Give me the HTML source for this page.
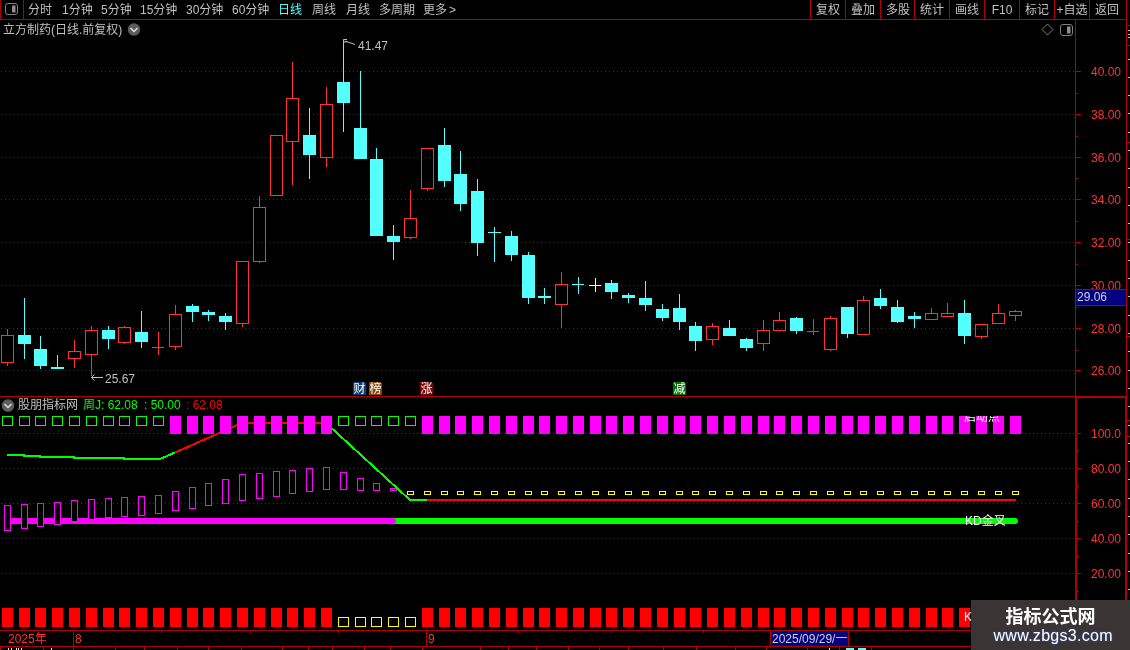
<!DOCTYPE html>
<html><head><meta charset="utf-8"><title>K线</title>
<style>
html,body{margin:0;padding:0;background:#000;width:1130px;height:650px;overflow:hidden}
svg{display:block;font-family:"Liberation Sans","Noto Sans CJK SC",sans-serif}
</style></head><body>
<svg width="1130" height="650" viewBox="0 0 1130 650" shape-rendering="crispEdges">
<rect width="1130" height="650" fill="#000"/>
<line x1="1" y1="71.5" x2="1075" y2="71.5" stroke="#b00000" stroke-width="1" stroke-dasharray="1 3"/>
<line x1="1" y1="114.5" x2="1075" y2="114.5" stroke="#b00000" stroke-width="1" stroke-dasharray="1 3"/>
<line x1="1" y1="157.5" x2="1075" y2="157.5" stroke="#b00000" stroke-width="1" stroke-dasharray="1 3"/>
<line x1="1" y1="199.5" x2="1075" y2="199.5" stroke="#b00000" stroke-width="1" stroke-dasharray="1 3"/>
<line x1="1" y1="242.5" x2="1075" y2="242.5" stroke="#b00000" stroke-width="1" stroke-dasharray="1 3"/>
<line x1="1" y1="285.5" x2="1075" y2="285.5" stroke="#b00000" stroke-width="1" stroke-dasharray="1 3"/>
<line x1="1" y1="328.5" x2="1075" y2="328.5" stroke="#b00000" stroke-width="1" stroke-dasharray="1 3"/>
<line x1="1" y1="370.5" x2="1075" y2="370.5" stroke="#b00000" stroke-width="1" stroke-dasharray="1 3"/>
<line x1="1" y1="433.5" x2="1075" y2="433.5" stroke="#b00000" stroke-width="1" stroke-dasharray="1 3"/>
<line x1="1" y1="468.5" x2="1075" y2="468.5" stroke="#b00000" stroke-width="1" stroke-dasharray="1 3"/>
<line x1="1" y1="503.5" x2="1075" y2="503.5" stroke="#b00000" stroke-width="1" stroke-dasharray="1 3"/>
<line x1="1" y1="538.5" x2="1075" y2="538.5" stroke="#b00000" stroke-width="1" stroke-dasharray="1 3"/>
<line x1="1" y1="573.5" x2="1075" y2="573.5" stroke="#b00000" stroke-width="1" stroke-dasharray="1 3"/>
<rect x="7" y="329" width="1" height="6" fill="#ff3232" />
<rect x="7" y="363" width="1" height="3" fill="#ff3232" />
<rect x="1.5" y="335.5" width="12" height="27" fill="none" stroke="#ff3232" stroke-width="1"/>
<rect x="24" y="298" width="1" height="61" fill="#54ffff" />
<rect x="18" y="335" width="13" height="9" fill="#54ffff" />
<rect x="40" y="336" width="1" height="33" fill="#54ffff" />
<rect x="34" y="349" width="13" height="17" fill="#54ffff" />
<rect x="57" y="355" width="1" height="14" fill="#54ffff" />
<rect x="51" y="367" width="13" height="2" fill="#54ffff" />
<rect x="74" y="340" width="1" height="11" fill="#ff3232" />
<rect x="74" y="359" width="1" height="9" fill="#ff3232" />
<rect x="68.5" y="351.5" width="12" height="7" fill="none" stroke="#ff3232" stroke-width="1"/>
<rect x="91" y="326" width="1" height="4" fill="#ff3232" />
<rect x="91" y="355" width="1" height="21" fill="#ff3232" />
<rect x="85.5" y="330.5" width="12" height="24" fill="none" stroke="#ff3232" stroke-width="1"/>
<rect x="108" y="326" width="1" height="23" fill="#54ffff" />
<rect x="102" y="330" width="13" height="9" fill="#54ffff" />
<rect x="124" y="326" width="1" height="1" fill="#ff3232" />
<rect x="124" y="343" width="1" height="1" fill="#ff3232" />
<rect x="118.5" y="327.5" width="12" height="15" fill="none" stroke="#ff3232" stroke-width="1"/>
<rect x="141" y="311" width="1" height="37" fill="#54ffff" />
<rect x="135" y="332" width="13" height="10" fill="#54ffff" />
<rect x="158" y="332" width="1" height="23" fill="#ff3232" />
<rect x="152" y="347" width="12" height="1" fill="#ff3232" />
<rect x="175" y="305" width="1" height="9" fill="#ff3232" />
<rect x="175" y="347" width="1" height="3" fill="#ff3232" />
<rect x="169.5" y="314.5" width="12" height="32" fill="none" stroke="#ff3232" stroke-width="1"/>
<rect x="192" y="304" width="1" height="18" fill="#54ffff" />
<rect x="186" y="306" width="13" height="6" fill="#54ffff" />
<rect x="208" y="310" width="1" height="11" fill="#54ffff" />
<rect x="202" y="312" width="13" height="3" fill="#54ffff" />
<rect x="225" y="313" width="1" height="17" fill="#54ffff" />
<rect x="219" y="316" width="13" height="6" fill="#54ffff" />
<rect x="242" y="324" width="1" height="3" fill="#ff3232" />
<rect x="236.5" y="261.5" width="12" height="62" fill="none" stroke="#ff3232" stroke-width="1"/>
<rect x="259" y="196" width="1" height="11" fill="#ff3232" />
<rect x="259" y="262" width="1" height="1" fill="#ff3232" />
<rect x="253.5" y="207.5" width="12" height="54" fill="none" stroke="#ff3232" stroke-width="1"/>
<rect x="270.5" y="135.5" width="12" height="60" fill="none" stroke="#ff3232" stroke-width="1"/>
<rect x="292" y="62" width="1" height="36" fill="#ff3232" />
<rect x="292" y="142" width="1" height="43" fill="#ff3232" />
<rect x="286.5" y="98.5" width="12" height="43" fill="none" stroke="#ff3232" stroke-width="1"/>
<rect x="309" y="108" width="1" height="71" fill="#54ffff" />
<rect x="303" y="135" width="13" height="20" fill="#54ffff" />
<rect x="326" y="87" width="1" height="17" fill="#ff3232" />
<rect x="326" y="158" width="1" height="9" fill="#ff3232" />
<rect x="320.5" y="104.5" width="12" height="53" fill="none" stroke="#ff3232" stroke-width="1"/>
<rect x="343" y="43" width="1" height="89" fill="#54ffff" />
<rect x="337" y="82" width="13" height="21" fill="#54ffff" />
<rect x="360" y="71" width="1" height="88" fill="#54ffff" />
<rect x="354" y="128" width="13" height="31" fill="#54ffff" />
<rect x="376" y="148" width="1" height="88" fill="#54ffff" />
<rect x="370" y="159" width="13" height="77" fill="#54ffff" />
<rect x="393" y="225" width="1" height="35" fill="#54ffff" />
<rect x="387" y="236" width="13" height="6" fill="#54ffff" />
<rect x="410" y="190" width="1" height="28" fill="#ff3232" />
<rect x="410" y="238" width="1" height="1" fill="#ff3232" />
<rect x="404.5" y="218.5" width="12" height="19" fill="none" stroke="#ff3232" stroke-width="1"/>
<rect x="427" y="189" width="1" height="2" fill="#ff3232" />
<rect x="421.5" y="148.5" width="12" height="40" fill="none" stroke="#ff3232" stroke-width="1"/>
<rect x="444" y="128" width="1" height="59" fill="#54ffff" />
<rect x="438" y="145" width="13" height="36" fill="#54ffff" />
<rect x="460" y="151" width="1" height="60" fill="#54ffff" />
<rect x="454" y="174" width="13" height="30" fill="#54ffff" />
<rect x="477" y="179" width="1" height="77" fill="#54ffff" />
<rect x="471" y="191" width="13" height="52" fill="#54ffff" />
<rect x="494" y="227" width="1" height="35" fill="#54ffff" />
<rect x="488" y="232" width="13" height="1" fill="#54ffff" />
<rect x="511" y="231" width="1" height="30" fill="#54ffff" />
<rect x="505" y="236" width="13" height="19" fill="#54ffff" />
<rect x="528" y="252" width="1" height="52" fill="#54ffff" />
<rect x="522" y="255" width="13" height="43" fill="#54ffff" />
<rect x="544" y="288" width="1" height="16" fill="#54ffff" />
<rect x="538" y="296" width="13" height="2" fill="#54ffff" />
<rect x="561" y="272" width="1" height="12" fill="#ff3232" />
<rect x="561" y="305" width="1" height="23" fill="#ff3232" />
<rect x="555.5" y="284.5" width="12" height="20" fill="none" stroke="#ff3232" stroke-width="1"/>
<rect x="578" y="277" width="1" height="17" fill="#54ffff" />
<rect x="572" y="284" width="12" height="1" fill="#54ffff" />
<rect x="595" y="278" width="1" height="14" fill="#ffffff" />
<rect x="589" y="285" width="12" height="1" fill="#ffffff" />
<rect x="611" y="280" width="1" height="19" fill="#54ffff" />
<rect x="605" y="283" width="13" height="9" fill="#54ffff" />
<rect x="628" y="293" width="1" height="10" fill="#54ffff" />
<rect x="622" y="295" width="13" height="3" fill="#54ffff" />
<rect x="645" y="281" width="1" height="30" fill="#54ffff" />
<rect x="639" y="298" width="13" height="7" fill="#54ffff" />
<rect x="662" y="304" width="1" height="17" fill="#54ffff" />
<rect x="656" y="309" width="13" height="9" fill="#54ffff" />
<rect x="679" y="294" width="1" height="36" fill="#54ffff" />
<rect x="673" y="308" width="13" height="14" fill="#54ffff" />
<rect x="695" y="322" width="1" height="29" fill="#54ffff" />
<rect x="689" y="326" width="13" height="15" fill="#54ffff" />
<rect x="712" y="323" width="1" height="3" fill="#ff3232" />
<rect x="712" y="340" width="1" height="5" fill="#ff3232" />
<rect x="706.5" y="326.5" width="12" height="13" fill="none" stroke="#ff3232" stroke-width="1"/>
<rect x="729" y="320" width="1" height="16" fill="#54ffff" />
<rect x="723" y="328" width="13" height="8" fill="#54ffff" />
<rect x="746" y="338" width="1" height="13" fill="#54ffff" />
<rect x="740" y="339" width="13" height="9" fill="#54ffff" />
<rect x="763" y="320" width="1" height="10" fill="#ff3232" />
<rect x="763" y="344" width="1" height="7" fill="#ff3232" />
<rect x="757.5" y="330.5" width="12" height="13" fill="none" stroke="#ff3232" stroke-width="1"/>
<rect x="779" y="312" width="1" height="8" fill="#ff3232" />
<rect x="773.5" y="320.5" width="12" height="10" fill="none" stroke="#ff3232" stroke-width="1"/>
<rect x="796" y="317" width="1" height="17" fill="#54ffff" />
<rect x="790" y="318" width="13" height="13" fill="#54ffff" />
<rect x="813" y="319" width="1" height="16" fill="#ff3232" />
<rect x="807" y="331" width="12" height="1" fill="#ff3232" />
<rect x="830" y="316" width="1" height="2" fill="#ff3232" />
<rect x="830" y="350" width="1" height="1" fill="#ff3232" />
<rect x="824.5" y="318.5" width="12" height="31" fill="none" stroke="#ff3232" stroke-width="1"/>
<rect x="847" y="307" width="1" height="31" fill="#54ffff" />
<rect x="841" y="307" width="13" height="27" fill="#54ffff" />
<rect x="863" y="296" width="1" height="4" fill="#ff3232" />
<rect x="857.5" y="300.5" width="12" height="34" fill="none" stroke="#ff3232" stroke-width="1"/>
<rect x="880" y="289" width="1" height="20" fill="#54ffff" />
<rect x="874" y="298" width="13" height="8" fill="#54ffff" />
<rect x="897" y="300" width="1" height="23" fill="#54ffff" />
<rect x="891" y="307" width="13" height="15" fill="#54ffff" />
<rect x="914" y="312" width="1" height="16" fill="#54ffff" />
<rect x="908" y="316" width="13" height="3" fill="#54ffff" />
<rect x="931" y="308" width="1" height="5" fill="#ff3232" />
<rect x="925.5" y="313.5" width="12" height="6" fill="none" stroke="#ff3232" stroke-width="1"/>
<rect x="947" y="303" width="1" height="10" fill="#ff3232" />
<rect x="941.5" y="313.5" width="12" height="3" fill="none" stroke="#ff3232" stroke-width="1"/>
<rect x="964" y="300" width="1" height="44" fill="#54ffff" />
<rect x="958" y="313" width="13" height="23" fill="#54ffff" />
<rect x="981" y="337" width="1" height="2" fill="#ff3232" />
<rect x="975.5" y="324.5" width="12" height="12" fill="none" stroke="#ff3232" stroke-width="1"/>
<rect x="998" y="304" width="1" height="9" fill="#ff3232" />
<rect x="992.5" y="313.5" width="12" height="10" fill="none" stroke="#ff3232" stroke-width="1"/>
<rect x="1015" y="310" width="1" height="1" fill="#ff3232" />
<rect x="1015" y="316" width="1" height="5" fill="#ff3232" />
<rect x="1009.5" y="311.5" width="12" height="4" fill="none" stroke="#ff3232" stroke-width="1"/>
<line x1="390" y1="521" x2="1015" y2="521" stroke="#00ff00" stroke-width="6" stroke-linecap="round" shape-rendering="auto"/>
<line x1="8" y1="521" x2="393" y2="521" stroke="#ff00ff" stroke-width="6" stroke-linecap="round" shape-rendering="auto"/>
<rect x="4.5" y="505.5" width="6" height="25" fill="#000" stroke="#ff00ff" stroke-width="1"/>
<rect x="21.5" y="504.5" width="6" height="24" fill="#000" stroke="#ff00ff" stroke-width="1"/>
<rect x="37.5" y="503.5" width="6" height="23" fill="#000" stroke="#ff00ff" stroke-width="1"/>
<rect x="54.5" y="502.5" width="6" height="22" fill="#000" stroke="#ff00ff" stroke-width="1"/>
<rect x="71.5" y="500.5" width="6" height="21" fill="#000" stroke="#ff00ff" stroke-width="1"/>
<rect x="88.5" y="499.5" width="6" height="20" fill="#000" stroke="#ff00ff" stroke-width="1"/>
<rect x="105.5" y="498.5" width="6" height="19" fill="#000" stroke="#ff00ff" stroke-width="1"/>
<rect x="121.5" y="497.5" width="6" height="19" fill="#000" stroke="#ff00ff" stroke-width="1"/>
<rect x="138.5" y="496.5" width="6" height="19" fill="#000" stroke="#ff00ff" stroke-width="1"/>
<rect x="155.5" y="495.5" width="6" height="18" fill="#000" stroke="#ff00ff" stroke-width="1"/>
<rect x="172.5" y="491.5" width="6" height="19" fill="#000" stroke="#ff00ff" stroke-width="1"/>
<rect x="189.5" y="487.5" width="6" height="21" fill="#000" stroke="#ff00ff" stroke-width="1"/>
<rect x="205.5" y="483.5" width="6" height="22" fill="#000" stroke="#ff00ff" stroke-width="1"/>
<rect x="222.5" y="479.5" width="6" height="24" fill="#000" stroke="#ff00ff" stroke-width="1"/>
<rect x="239.5" y="474.5" width="6" height="26" fill="#000" stroke="#ff00ff" stroke-width="1"/>
<rect x="256.5" y="473.5" width="6" height="25" fill="#000" stroke="#ff00ff" stroke-width="1"/>
<rect x="273.5" y="471.5" width="6" height="25" fill="#000" stroke="#ff00ff" stroke-width="1"/>
<rect x="289.5" y="470.5" width="6" height="23" fill="#000" stroke="#ff00ff" stroke-width="1"/>
<rect x="306.5" y="468.5" width="6" height="23" fill="#000" stroke="#ff00ff" stroke-width="1"/>
<rect x="323.5" y="467.5" width="6" height="22" fill="#000" stroke="#ff00ff" stroke-width="1"/>
<rect x="340.5" y="472.5" width="6" height="17" fill="#000" stroke="#ff00ff" stroke-width="1"/>
<rect x="357.5" y="478.5" width="6" height="12" fill="#000" stroke="#ff00ff" stroke-width="1"/>
<rect x="373.5" y="483.5" width="6" height="7" fill="#000" stroke="#ff00ff" stroke-width="1"/>
<rect x="390.5" y="488.5" width="6" height="2" fill="#000" stroke="#ff00ff" stroke-width="1"/>
<rect x="407.5" y="491.5" width="6" height="3" fill="#000" stroke="#ffff00" stroke-width="1"/>
<rect x="424.5" y="491.5" width="6" height="3" fill="#000" stroke="#ffff00" stroke-width="1"/>
<rect x="441.5" y="491.5" width="6" height="3" fill="#000" stroke="#ffff00" stroke-width="1"/>
<rect x="457.5" y="491.5" width="6" height="3" fill="#000" stroke="#ffff00" stroke-width="1"/>
<rect x="474.5" y="491.5" width="6" height="3" fill="#000" stroke="#ffff00" stroke-width="1"/>
<rect x="491.5" y="491.5" width="6" height="3" fill="#000" stroke="#ffff00" stroke-width="1"/>
<rect x="508.5" y="491.5" width="6" height="3" fill="#000" stroke="#ffff00" stroke-width="1"/>
<rect x="525.5" y="491.5" width="6" height="3" fill="#000" stroke="#ffff00" stroke-width="1"/>
<rect x="541.5" y="491.5" width="6" height="3" fill="#000" stroke="#ffff00" stroke-width="1"/>
<rect x="558.5" y="491.5" width="6" height="3" fill="#000" stroke="#ffff00" stroke-width="1"/>
<rect x="575.5" y="491.5" width="6" height="3" fill="#000" stroke="#ffff00" stroke-width="1"/>
<rect x="592.5" y="491.5" width="6" height="3" fill="#000" stroke="#ffff00" stroke-width="1"/>
<rect x="608.5" y="491.5" width="6" height="3" fill="#000" stroke="#ffff00" stroke-width="1"/>
<rect x="625.5" y="491.5" width="6" height="3" fill="#000" stroke="#ffff00" stroke-width="1"/>
<rect x="642.5" y="491.5" width="6" height="3" fill="#000" stroke="#ffff00" stroke-width="1"/>
<rect x="659.5" y="491.5" width="6" height="3" fill="#000" stroke="#ffff00" stroke-width="1"/>
<rect x="676.5" y="491.5" width="6" height="3" fill="#000" stroke="#ffff00" stroke-width="1"/>
<rect x="692.5" y="491.5" width="6" height="3" fill="#000" stroke="#ffff00" stroke-width="1"/>
<rect x="709.5" y="491.5" width="6" height="3" fill="#000" stroke="#ffff00" stroke-width="1"/>
<rect x="726.5" y="491.5" width="6" height="3" fill="#000" stroke="#ffff00" stroke-width="1"/>
<rect x="743.5" y="491.5" width="6" height="3" fill="#000" stroke="#ffff00" stroke-width="1"/>
<rect x="760.5" y="491.5" width="6" height="3" fill="#000" stroke="#ffff00" stroke-width="1"/>
<rect x="776.5" y="491.5" width="6" height="3" fill="#000" stroke="#ffff00" stroke-width="1"/>
<rect x="793.5" y="491.5" width="6" height="3" fill="#000" stroke="#ffff00" stroke-width="1"/>
<rect x="810.5" y="491.5" width="6" height="3" fill="#000" stroke="#ffff00" stroke-width="1"/>
<rect x="827.5" y="491.5" width="6" height="3" fill="#000" stroke="#ffff00" stroke-width="1"/>
<rect x="844.5" y="491.5" width="6" height="3" fill="#000" stroke="#ffff00" stroke-width="1"/>
<rect x="860.5" y="491.5" width="6" height="3" fill="#000" stroke="#ffff00" stroke-width="1"/>
<rect x="877.5" y="491.5" width="6" height="3" fill="#000" stroke="#ffff00" stroke-width="1"/>
<rect x="894.5" y="491.5" width="6" height="3" fill="#000" stroke="#ffff00" stroke-width="1"/>
<rect x="911.5" y="491.5" width="6" height="3" fill="#000" stroke="#ffff00" stroke-width="1"/>
<rect x="928.5" y="491.5" width="6" height="3" fill="#000" stroke="#ffff00" stroke-width="1"/>
<rect x="944.5" y="491.5" width="6" height="3" fill="#000" stroke="#ffff00" stroke-width="1"/>
<rect x="961.5" y="491.5" width="6" height="3" fill="#000" stroke="#ffff00" stroke-width="1"/>
<rect x="978.5" y="491.5" width="6" height="3" fill="#000" stroke="#ffff00" stroke-width="1"/>
<rect x="995.5" y="491.5" width="6" height="3" fill="#000" stroke="#ffff00" stroke-width="1"/>
<rect x="1012.5" y="491.5" width="6" height="3" fill="#000" stroke="#ffff00" stroke-width="1"/>
<rect x="2.5" y="416.5" width="10" height="9" fill="none" stroke="#00ff00" stroke-width="1"/>
<rect x="19.5" y="416.5" width="10" height="9" fill="none" stroke="#00ff00" stroke-width="1"/>
<rect x="35.5" y="416.5" width="10" height="9" fill="none" stroke="#00ff00" stroke-width="1"/>
<rect x="52.5" y="416.5" width="10" height="9" fill="none" stroke="#00ff00" stroke-width="1"/>
<rect x="69.5" y="416.5" width="10" height="9" fill="none" stroke="#00ff00" stroke-width="1"/>
<rect x="86.5" y="416.5" width="10" height="9" fill="none" stroke="#00ff00" stroke-width="1"/>
<rect x="103.5" y="416.5" width="10" height="9" fill="none" stroke="#00ff00" stroke-width="1"/>
<rect x="119.5" y="416.5" width="10" height="9" fill="none" stroke="#00ff00" stroke-width="1"/>
<rect x="136.5" y="416.5" width="10" height="9" fill="none" stroke="#00ff00" stroke-width="1"/>
<rect x="153.5" y="416.5" width="10" height="9" fill="none" stroke="#00ff00" stroke-width="1"/>
<rect x="338.5" y="416.5" width="10" height="9" fill="none" stroke="#00ff00" stroke-width="1"/>
<rect x="355.5" y="416.5" width="10" height="9" fill="none" stroke="#00ff00" stroke-width="1"/>
<rect x="371.5" y="416.5" width="10" height="9" fill="none" stroke="#00ff00" stroke-width="1"/>
<rect x="388.5" y="416.5" width="10" height="9" fill="none" stroke="#00ff00" stroke-width="1"/>
<rect x="405.5" y="416.5" width="10" height="9" fill="none" stroke="#00ff00" stroke-width="1"/>
<polyline points="7,455 24,455 24,456 40,456 40,457 74,457 74,458 124,458 124,459 160,459 175,452.5" fill="none" stroke="#00ff00" stroke-width="2"/>
<polyline points="175,452.5 242,423 326,423" fill="none" stroke="#ff0000" stroke-width="2"/>
<polyline points="326,423 332,428.5 410,500 427,500" fill="none" stroke="#00ff00" stroke-width="2"/>
<polyline points="427,500 1016,500" fill="none" stroke="#ff0000" stroke-width="2"/>
<rect x="170" y="416" width="11" height="18" fill="#ff00ff" />
<rect x="187" y="416" width="11" height="18" fill="#ff00ff" />
<rect x="203" y="416" width="11" height="18" fill="#ff00ff" />
<rect x="220" y="416" width="11" height="18" fill="#ff00ff" />
<rect x="237" y="416" width="11" height="18" fill="#ff00ff" />
<rect x="254" y="416" width="11" height="18" fill="#ff00ff" />
<rect x="271" y="416" width="11" height="18" fill="#ff00ff" />
<rect x="287" y="416" width="11" height="18" fill="#ff00ff" />
<rect x="304" y="416" width="11" height="18" fill="#ff00ff" />
<rect x="321" y="416" width="11" height="18" fill="#ff00ff" />
<rect x="422" y="416" width="11" height="18" fill="#ff00ff" />
<rect x="439" y="416" width="11" height="18" fill="#ff00ff" />
<rect x="455" y="416" width="11" height="18" fill="#ff00ff" />
<rect x="472" y="416" width="11" height="18" fill="#ff00ff" />
<rect x="489" y="416" width="11" height="18" fill="#ff00ff" />
<rect x="506" y="416" width="11" height="18" fill="#ff00ff" />
<rect x="523" y="416" width="11" height="18" fill="#ff00ff" />
<rect x="539" y="416" width="11" height="18" fill="#ff00ff" />
<rect x="556" y="416" width="11" height="18" fill="#ff00ff" />
<rect x="573" y="416" width="11" height="18" fill="#ff00ff" />
<rect x="590" y="416" width="11" height="18" fill="#ff00ff" />
<rect x="606" y="416" width="11" height="18" fill="#ff00ff" />
<rect x="623" y="416" width="11" height="18" fill="#ff00ff" />
<rect x="640" y="416" width="11" height="18" fill="#ff00ff" />
<rect x="657" y="416" width="11" height="18" fill="#ff00ff" />
<rect x="674" y="416" width="11" height="18" fill="#ff00ff" />
<rect x="690" y="416" width="11" height="18" fill="#ff00ff" />
<rect x="707" y="416" width="11" height="18" fill="#ff00ff" />
<rect x="724" y="416" width="11" height="18" fill="#ff00ff" />
<rect x="741" y="416" width="11" height="18" fill="#ff00ff" />
<rect x="758" y="416" width="11" height="18" fill="#ff00ff" />
<rect x="774" y="416" width="11" height="18" fill="#ff00ff" />
<rect x="791" y="416" width="11" height="18" fill="#ff00ff" />
<rect x="808" y="416" width="11" height="18" fill="#ff00ff" />
<rect x="825" y="416" width="11" height="18" fill="#ff00ff" />
<rect x="842" y="416" width="11" height="18" fill="#ff00ff" />
<rect x="858" y="416" width="11" height="18" fill="#ff00ff" />
<rect x="875" y="416" width="11" height="18" fill="#ff00ff" />
<rect x="892" y="416" width="11" height="18" fill="#ff00ff" />
<rect x="909" y="416" width="11" height="18" fill="#ff00ff" />
<rect x="926" y="416" width="11" height="18" fill="#ff00ff" />
<rect x="942" y="416" width="11" height="18" fill="#ff00ff" />
<rect x="959" y="416" width="11" height="18" fill="#ff00ff" />
<rect x="976" y="416" width="11" height="18" fill="#ff00ff" />
<rect x="993" y="416" width="11" height="18" fill="#ff00ff" />
<rect x="1010" y="416" width="11" height="18" fill="#ff00ff" />
<rect x="2" y="608" width="11" height="19" fill="#ff0000" />
<rect x="19" y="608" width="11" height="19" fill="#ff0000" />
<rect x="35" y="608" width="11" height="19" fill="#ff0000" />
<rect x="52" y="608" width="11" height="19" fill="#ff0000" />
<rect x="69" y="608" width="11" height="19" fill="#ff0000" />
<rect x="86" y="608" width="11" height="19" fill="#ff0000" />
<rect x="103" y="608" width="11" height="19" fill="#ff0000" />
<rect x="119" y="608" width="11" height="19" fill="#ff0000" />
<rect x="136" y="608" width="11" height="19" fill="#ff0000" />
<rect x="153" y="608" width="11" height="19" fill="#ff0000" />
<rect x="170" y="608" width="11" height="19" fill="#ff0000" />
<rect x="187" y="608" width="11" height="19" fill="#ff0000" />
<rect x="203" y="608" width="11" height="19" fill="#ff0000" />
<rect x="220" y="608" width="11" height="19" fill="#ff0000" />
<rect x="237" y="608" width="11" height="19" fill="#ff0000" />
<rect x="254" y="608" width="11" height="19" fill="#ff0000" />
<rect x="271" y="608" width="11" height="19" fill="#ff0000" />
<rect x="287" y="608" width="11" height="19" fill="#ff0000" />
<rect x="304" y="608" width="11" height="19" fill="#ff0000" />
<rect x="321" y="608" width="11" height="19" fill="#ff0000" />
<rect x="338.5" y="617.5" width="10" height="9" fill="none" stroke="#ffff00" stroke-width="1"/>
<rect x="355.5" y="617.5" width="10" height="9" fill="none" stroke="#ffff00" stroke-width="1"/>
<rect x="371.5" y="617.5" width="10" height="9" fill="none" stroke="#ffff00" stroke-width="1"/>
<rect x="388.5" y="617.5" width="10" height="9" fill="none" stroke="#ffff00" stroke-width="1"/>
<rect x="405.5" y="617.5" width="10" height="9" fill="none" stroke="#ffff00" stroke-width="1"/>
<rect x="422" y="608" width="11" height="19" fill="#ff0000" />
<rect x="439" y="608" width="11" height="19" fill="#ff0000" />
<rect x="455" y="608" width="11" height="19" fill="#ff0000" />
<rect x="472" y="608" width="11" height="19" fill="#ff0000" />
<rect x="489" y="608" width="11" height="19" fill="#ff0000" />
<rect x="506" y="608" width="11" height="19" fill="#ff0000" />
<rect x="523" y="608" width="11" height="19" fill="#ff0000" />
<rect x="539" y="608" width="11" height="19" fill="#ff0000" />
<rect x="556" y="608" width="11" height="19" fill="#ff0000" />
<rect x="573" y="608" width="11" height="19" fill="#ff0000" />
<rect x="590" y="608" width="11" height="19" fill="#ff0000" />
<rect x="606" y="608" width="11" height="19" fill="#ff0000" />
<rect x="623" y="608" width="11" height="19" fill="#ff0000" />
<rect x="640" y="608" width="11" height="19" fill="#ff0000" />
<rect x="657" y="608" width="11" height="19" fill="#ff0000" />
<rect x="674" y="608" width="11" height="19" fill="#ff0000" />
<rect x="690" y="608" width="11" height="19" fill="#ff0000" />
<rect x="707" y="608" width="11" height="19" fill="#ff0000" />
<rect x="724" y="608" width="11" height="19" fill="#ff0000" />
<rect x="741" y="608" width="11" height="19" fill="#ff0000" />
<rect x="758" y="608" width="11" height="19" fill="#ff0000" />
<rect x="774" y="608" width="11" height="19" fill="#ff0000" />
<rect x="791" y="608" width="11" height="19" fill="#ff0000" />
<rect x="808" y="608" width="11" height="19" fill="#ff0000" />
<rect x="825" y="608" width="11" height="19" fill="#ff0000" />
<rect x="842" y="608" width="11" height="19" fill="#ff0000" />
<rect x="858" y="608" width="11" height="19" fill="#ff0000" />
<rect x="875" y="608" width="11" height="19" fill="#ff0000" />
<rect x="892" y="608" width="11" height="19" fill="#ff0000" />
<rect x="909" y="608" width="11" height="19" fill="#ff0000" />
<rect x="926" y="608" width="11" height="19" fill="#ff0000" />
<rect x="942" y="608" width="11" height="19" fill="#ff0000" />
<rect x="959" y="608" width="11" height="19" fill="#ff0000" />
<rect x="976" y="608" width="11" height="19" fill="#ff0000" />
<rect x="993" y="608" width="11" height="19" fill="#ff0000" />
<rect x="1010" y="608" width="11" height="19" fill="#ff0000" />
<rect x="0" y="19" width="1127" height="1" fill="#b00000" />
<rect x="0" y="0" width="1" height="20" fill="#b00000" />
<rect x="23" y="0" width="1" height="20" fill="#b00000" />
<rect x="810" y="0" width="1" height="20" fill="#b00000" />
<rect x="845" y="0" width="1" height="20" fill="#b00000" />
<rect x="880" y="0" width="1" height="20" fill="#b00000" />
<rect x="914" y="0" width="1" height="20" fill="#b00000" />
<rect x="949" y="0" width="1" height="20" fill="#b00000" />
<rect x="984" y="0" width="1" height="20" fill="#b00000" />
<rect x="1019" y="0" width="1" height="20" fill="#b00000" />
<rect x="1054" y="0" width="1" height="20" fill="#b00000" />
<rect x="1089" y="0" width="1" height="20" fill="#b00000" />
<rect x="1126" y="0" width="1" height="396" fill="#b00000" />
<rect x="1075" y="20" width="1" height="376" fill="#b00000" />
<rect x="0" y="396" width="1075" height="1" fill="#b00000" />
<rect x="1075" y="396" width="52" height="2" fill="#b00000" />
<rect x="1075" y="396" width="2" height="254" fill="#b00000" />
<rect x="1125" y="396" width="2" height="254" fill="#b00000" />
<rect x="0" y="630" width="1075" height="1" fill="#b00000" />
<rect x="0" y="646" width="1075" height="1" fill="#b00000" />
<rect x="73" y="630" width="1" height="20" fill="#b00000" />
<rect x="426" y="630" width="1" height="17" fill="#b00000" />
<rect x="161" y="630" width="1" height="3" fill="#b00000" />
<rect x="250" y="630" width="1" height="3" fill="#b00000" />
<rect x="338" y="630" width="1" height="3" fill="#b00000" />
<rect x="518" y="630" width="1" height="3" fill="#b00000" />
<rect x="611" y="630" width="1" height="3" fill="#b00000" />
<rect x="703" y="630" width="1" height="3" fill="#b00000" />
<rect x="43" y="647" width="1" height="3" fill="#b00000" />
<rect x="115" y="647" width="1" height="3" fill="#b00000" />
<rect x="144" y="647" width="1" height="3" fill="#b00000" />
<rect x="177" y="647" width="1" height="3" fill="#b00000" />
<rect x="208" y="647" width="1" height="3" fill="#b00000" />
<rect x="241" y="647" width="1" height="3" fill="#b00000" />
<rect x="282" y="647" width="1" height="3" fill="#b00000" />
<rect x="308" y="647" width="1" height="3" fill="#b00000" />
<rect x="332" y="647" width="1" height="3" fill="#b00000" />
<rect x="364" y="647" width="1" height="3" fill="#b00000" />
<rect x="390" y="647" width="1" height="3" fill="#b00000" />
<rect x="422" y="647" width="1" height="3" fill="#b00000" />
<rect x="480" y="647" width="1" height="3" fill="#b00000" />
<rect x="508" y="647" width="1" height="3" fill="#b00000" />
<rect x="536" y="647" width="1" height="3" fill="#b00000" />
<rect x="568" y="647" width="1" height="3" fill="#b00000" />
<rect x="599" y="647" width="1" height="3" fill="#b00000" />
<rect x="628" y="647" width="1" height="3" fill="#b00000" />
<rect x="663" y="647" width="1" height="3" fill="#b00000" />
<rect x="696" y="647" width="1" height="3" fill="#b00000" />
<rect x="735" y="647" width="1" height="3" fill="#b00000" />
<rect x="766" y="647" width="1" height="3" fill="#b00000" />
<rect x="807" y="647" width="1" height="3" fill="#b00000" />
<rect x="839" y="647" width="1" height="3" fill="#b00000" />
<rect x="871" y="647" width="1" height="3" fill="#b00000" />
<rect x="8" y="648" width="1" height="2" fill="#e0e0e0" />
<rect x="11" y="648" width="1" height="2" fill="#e0e0e0" />
<rect x="16" y="648" width="1" height="2" fill="#e0e0e0" />
<rect x="18" y="648" width="1" height="2" fill="#e0e0e0" />
<rect x="21" y="648" width="1" height="2" fill="#e0e0e0" />
<rect x="51" y="648" width="1" height="2" fill="#e0e0e0" />
<rect x="0" y="646" width="1" height="4" fill="#b00000" />
<rect x="1128" y="59" width="2" height="1" fill="#c0c0c0" />
<rect x="1128" y="77" width="2" height="1" fill="#c0c0c0" />
<rect x="1128" y="95" width="2" height="1" fill="#c0c0c0" />
<rect x="1128" y="113" width="2" height="1" fill="#c0c0c0" />
<rect x="1128" y="132" width="2" height="1" fill="#c0c0c0" />
<rect x="1128" y="150" width="2" height="1" fill="#c0c0c0" />
<rect x="1128" y="168" width="2" height="1" fill="#c0c0c0" />
<rect x="1128" y="187" width="2" height="1" fill="#c0c0c0" />
<rect x="1128" y="205" width="2" height="1" fill="#c0c0c0" />
<rect x="1128" y="223" width="2" height="1" fill="#c0c0c0" />
<rect x="1128" y="242" width="2" height="1" fill="#c0c0c0" />
<rect x="1128" y="260" width="2" height="1" fill="#c0c0c0" />
<rect x="1128" y="278" width="2" height="1" fill="#c0c0c0" />
<rect x="1128" y="296" width="2" height="1" fill="#c0c0c0" />
<rect x="1128" y="315" width="2" height="1" fill="#c0c0c0" />
<rect x="1128" y="333" width="2" height="1" fill="#c0c0c0" />
<rect x="1128" y="351" width="2" height="1" fill="#c0c0c0" />
<rect x="1128" y="370" width="2" height="1" fill="#c0c0c0" />
<rect x="1128" y="388" width="2" height="1" fill="#c0c0c0" />
<rect x="1128" y="406" width="2" height="1" fill="#c0c0c0" />
<rect x="1128" y="425" width="2" height="1" fill="#c0c0c0" />
<rect x="1128" y="443" width="2" height="1" fill="#c0c0c0" />
<rect x="1128" y="461" width="2" height="1" fill="#c0c0c0" />
<rect x="1128" y="479" width="2" height="1" fill="#c0c0c0" />
<rect x="1128" y="498" width="2" height="1" fill="#c0c0c0" />
<rect x="1128" y="516" width="2" height="1" fill="#c0c0c0" />
<rect x="1128" y="534" width="2" height="1" fill="#c0c0c0" />
<rect x="1128" y="553" width="2" height="1" fill="#c0c0c0" />
<rect x="1128" y="571" width="2" height="1" fill="#c0c0c0" />
<rect x="1128" y="589" width="2" height="1" fill="#c0c0c0" />
<rect x="1128" y="30" width="2" height="1" fill="#c0c0c0" />
<rect x="1128" y="34" width="2" height="1" fill="#c0c0c0" />
<rect x="1128" y="37" width="2" height="1" fill="#c0c0c0" />
<rect x="1127" y="25" width="3" height="1" fill="#b00000" />
<rect x="1127" y="45" width="3" height="1" fill="#b00000" />
<rect x="1127" y="142" width="3" height="1" fill="#b00000" />
<rect x="1127" y="239" width="3" height="1" fill="#b00000" />
<rect x="1127" y="336" width="3" height="1" fill="#b00000" />
<rect x="1127" y="420" width="3" height="1" fill="#b00000" />
<rect x="1127" y="436" width="3" height="1" fill="#b00000" />
<rect x="1076" y="71" width="5" height="1" fill="#b00000" />
<text x="1121" y="76" fill="#ff3232" font-size="12" text-anchor="end" >40.00</text>
<rect x="1076" y="114" width="5" height="1" fill="#b00000" />
<text x="1121" y="119" fill="#ff3232" font-size="12" text-anchor="end" >38.00</text>
<rect x="1076" y="157" width="5" height="1" fill="#b00000" />
<text x="1121" y="162" fill="#ff3232" font-size="12" text-anchor="end" >36.00</text>
<rect x="1076" y="199" width="5" height="1" fill="#b00000" />
<text x="1121" y="204" fill="#ff3232" font-size="12" text-anchor="end" >34.00</text>
<rect x="1076" y="242" width="5" height="1" fill="#b00000" />
<text x="1121" y="247" fill="#ff3232" font-size="12" text-anchor="end" >32.00</text>
<rect x="1076" y="285" width="5" height="1" fill="#b00000" />
<text x="1121" y="290" fill="#ff3232" font-size="12" text-anchor="end" >30.00</text>
<rect x="1076" y="328" width="5" height="1" fill="#b00000" />
<text x="1121" y="333" fill="#ff3232" font-size="12" text-anchor="end" >28.00</text>
<rect x="1076" y="370" width="5" height="1" fill="#b00000" />
<text x="1121" y="375" fill="#ff3232" font-size="12" text-anchor="end" >26.00</text>
<rect x="1076" y="93" width="2" height="1" fill="#b00000" />
<rect x="1076" y="136" width="2" height="1" fill="#b00000" />
<rect x="1076" y="178" width="2" height="1" fill="#b00000" />
<rect x="1076" y="221" width="2" height="1" fill="#b00000" />
<rect x="1076" y="264" width="2" height="1" fill="#b00000" />
<rect x="1076" y="307" width="2" height="1" fill="#b00000" />
<rect x="1076" y="350" width="2" height="1" fill="#b00000" />
<rect x="1077" y="433" width="4" height="1" fill="#b00000" />
<text x="1121" y="438" fill="#ff3232" font-size="12" text-anchor="end" >100.0</text>
<rect x="1077" y="451" width="2" height="1" fill="#b00000" />
<rect x="1077" y="468" width="4" height="1" fill="#b00000" />
<text x="1121" y="473" fill="#ff3232" font-size="12" text-anchor="end" >80.00</text>
<rect x="1077" y="486" width="2" height="1" fill="#b00000" />
<rect x="1077" y="503" width="4" height="1" fill="#b00000" />
<text x="1121" y="508" fill="#ff3232" font-size="12" text-anchor="end" >60.00</text>
<rect x="1077" y="521" width="2" height="1" fill="#b00000" />
<rect x="1077" y="538" width="4" height="1" fill="#b00000" />
<text x="1121" y="543" fill="#ff3232" font-size="12" text-anchor="end" >40.00</text>
<rect x="1077" y="556" width="2" height="1" fill="#b00000" />
<rect x="1077" y="573" width="4" height="1" fill="#b00000" />
<text x="1121" y="578" fill="#ff3232" font-size="12" text-anchor="end" >20.00</text>
<rect x="1077" y="591" width="2" height="1" fill="#b00000" />
<rect x="1076" y="289" width="50" height="17" fill="#b00000" />
<rect x="1076" y="290" width="50" height="15" fill="#000080" />
<text x="1077" y="301" fill="#d0d0d0" font-size="12" text-anchor="start" >29.06</text>
<text x="358" y="50" fill="#c0c0c0" font-size="12" text-anchor="start" >41.47</text>
<path d="M343.5 44V39.5H347M344 42H346.5M345 41L355 44.5" fill="none" stroke="#c0c0c0" stroke-width="1" shape-rendering="auto"/>
<text x="105" y="383" fill="#c0c0c0" font-size="12" text-anchor="start" >25.67</text>
<path d="M91.5 377.5H103M94.5 374.5L91.5 377.5L94.5 380.5" fill="none" stroke="#c0c0c0" stroke-width="1" shape-rendering="auto"/>
<rect x="353" y="382" width="13" height="13" fill="#0a3c78" />
<rect x="365" y="382" width="1" height="1" fill="#000" />
<text x="359.5" y="393" fill="#ffffff" font-size="12" text-anchor="middle" >财</text>
<rect x="369" y="382" width="13" height="13" fill="#8c4608" />
<rect x="381" y="382" width="1" height="1" fill="#000" />
<text x="375.5" y="393" fill="#ffffff" font-size="12" text-anchor="middle" >榜</text>
<rect x="420" y="382" width="13" height="13" fill="#780808" />
<rect x="432" y="382" width="1" height="1" fill="#000" />
<text x="426.5" y="393" fill="#ffffff" font-size="12" text-anchor="middle" >涨</text>
<rect x="673" y="382" width="13" height="13" fill="#007800" />
<rect x="685" y="382" width="1" height="1" fill="#000" />
<text x="679.5" y="393" fill="#ffffff" font-size="12" text-anchor="middle" >减</text>
<text x="28" y="14" fill="#c0c0c0" font-size="12" text-anchor="start" >分时</text>
<text x="62" y="14" fill="#c0c0c0" font-size="12" text-anchor="start" >1分钟</text>
<text x="101" y="14" fill="#c0c0c0" font-size="12" text-anchor="start" >5分钟</text>
<text x="140" y="14" fill="#c0c0c0" font-size="12" text-anchor="start" >15分钟</text>
<text x="186" y="14" fill="#c0c0c0" font-size="12" text-anchor="start" >30分钟</text>
<text x="232" y="14" fill="#c0c0c0" font-size="12" text-anchor="start" >60分钟</text>
<text x="278" y="14" fill="#54ffff" font-size="12" text-anchor="start" >日线</text>
<text x="312" y="14" fill="#c0c0c0" font-size="12" text-anchor="start" >周线</text>
<text x="346" y="14" fill="#c0c0c0" font-size="12" text-anchor="start" >月线</text>
<text x="379" y="14" fill="#c0c0c0" font-size="12" text-anchor="start" >多周期</text>
<text x="423" y="14" fill="#c0c0c0" font-size="12" text-anchor="start" >更多<tspan dx="2">&gt;</tspan></text>
<text x="828" y="14" fill="#c0c0c0" font-size="12" text-anchor="middle" >复权</text>
<text x="863" y="14" fill="#c0c0c0" font-size="12" text-anchor="middle" >叠加</text>
<text x="898" y="14" fill="#c0c0c0" font-size="12" text-anchor="middle" >多股</text>
<text x="932" y="14" fill="#c0c0c0" font-size="12" text-anchor="middle" >统计</text>
<text x="967" y="14" fill="#c0c0c0" font-size="12" text-anchor="middle" >画线</text>
<text x="1002" y="14" fill="#c0c0c0" font-size="12" text-anchor="middle" >F10</text>
<text x="1037" y="14" fill="#c0c0c0" font-size="12" text-anchor="middle" >标记</text>
<text x="1072" y="14" fill="#c0c0c0" font-size="12" text-anchor="middle" >+自选</text>
<text x="1107" y="14" fill="#c0c0c0" font-size="12" text-anchor="middle" >返回</text>
<text x="3" y="34" fill="#c0c0c0" font-size="12" text-anchor="start" >立方制药(日线.前复权)</text>
<g shape-rendering="auto" fill="none" stroke="#808080"><rect x="5.5" y="3.5" width="12" height="11" rx="2.5"/><rect x="12" y="5.5" width="3.5" height="7" fill="#909090" stroke="none"/><rect x="1060.5" y="24.5" width="12" height="11" rx="2.5"/><rect x="1067" y="26.5" width="3.5" height="7" fill="#909090" stroke="none"/><path d="M1047.5 24L1053 29.5L1047.5 35L1042 29.5Z"/><circle cx="134" cy="29.5" r="6.2" fill="#5c5c5c" stroke="none"/><path d="M130.5 28L134 31.5L137.5 28" stroke="#e0e0e0" stroke-width="1.5"/><circle cx="8" cy="405.5" r="6.3" fill="#5c5c5c" stroke="none"/><path d="M4.5 404L8 407.5L11.500 404" stroke="#e0e0e0" stroke-width="1.5"/></g>
<text x="18" y="409" fill="#c0c0c0" font-size="12" text-anchor="start" >股朋指标网</text>
<text x="83" y="409" fill="#00ff00" font-size="12" text-anchor="start" >周J: 62.08</text>
<text x="144" y="409" fill="#00ff00" font-size="12" text-anchor="start" >: 50.00</text>
<text x="186" y="409" fill="#ff0000" font-size="12" text-anchor="start" >: 62.08</text>
<text x="965" y="525" fill="#ffffff" font-size="12" text-anchor="start" >KD金叉</text>
<clipPath id="cp1"><rect x="950" y="416" width="80" height="10"/></clipPath>
<text x="964" y="421" fill="#ffffff" font-size="12" text-anchor="start" clip-path="url(#cp1)">启动点</text>
<text x="964" y="621" fill="#ffffff" font-size="12" text-anchor="start" >K</text>
<text x="8" y="643" fill="#ff3232" font-size="12" text-anchor="start" >2025年</text>
<text x="75" y="643" fill="#ff3232" font-size="12" text-anchor="start" >8</text>
<text x="428" y="643" fill="#ff3232" font-size="12" text-anchor="start" >9</text>
<rect x="770" y="631" width="79" height="15" fill="#000080" />
<rect x="770" y="631" width="1" height="15" fill="#b00000" />
<rect x="848" y="631" width="1" height="15" fill="#b00000" />
<text x="772" y="643" fill="#d0d0d0" font-size="12" text-anchor="start" >2025/09/29/一</text>
<rect x="846" y="648" width="8" height="2" fill="#54ffff" />
<rect x="858" y="648" width="8" height="2" fill="#54ffff" />
<rect x="829" y="648" width="1" height="2" fill="#e0e0e0" />
<rect x="971" y="600" width="159" height="50" fill="#3a3434" />
<text x="1050.5" y="623" fill="#ffffff" font-size="18" text-anchor="middle" font-weight="bold">指标公式网</text>
<text x="1053" y="641" fill="#ffffff" font-size="16" text-anchor="middle" textLength="119" style="text-shadow:0 0 2px #3060c0">www.zbgs3.com</text>
</svg>
</body></html>
